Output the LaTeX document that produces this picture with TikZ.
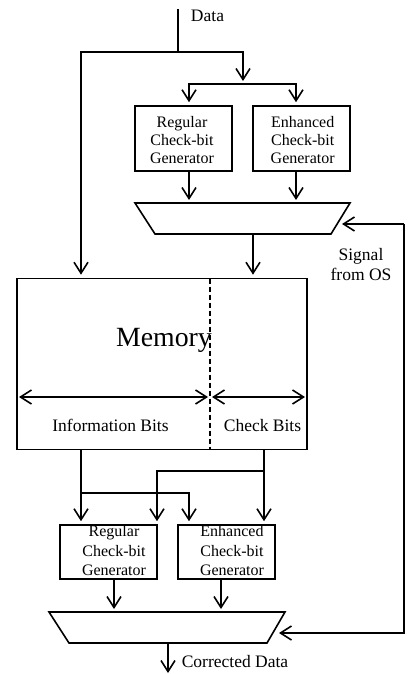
\documentclass[tikz,border=0pt]{standalone}
\usepackage{fontspec}
\setmainfont{Liberation Serif}
\usetikzlibrary{arrows.meta}
\begin{document}
\begin{tikzpicture}[x=1bp,y=-1bp,
  line width=1.6bp,
  barb/.tip={Straight Barb[length=11bp,width=14bp]},
  arr/.style={-barb, shorten >=3bp},
  dbl/.style={barb-barb},
  genbox/.style={draw, inner sep=0, minimum width=97bp},
  gentext/.style={align=center, inner sep=0, anchor=north},
  lbl/.style={inner sep=0, font=\fontsize{17.5bp}{20.7bp}\selectfont},
]
\useasboundingbox (0,0) rectangle (419,674);

% ---- input side: check-bit generators and selector ----
\node[genbox, minimum height=65bp] (rg1) at (183.5,138.5) {};
\node[genbox, minimum height=65bp] (eg1) at (301.5,138.5) {};
\node[gentext, font=\fontsize{16bp}{18.3bp}\selectfont] (rg1t) at (182,115.1) {Regular\\Check-bit\\Generator};
\node[gentext, font=\fontsize{16bp}{18.3bp}\selectfont] (eg1t) at (302.7,115.1) {Enhanced\\Check-bit\\Generator};

\coordinate (mxa-tl) at (135,203);
\coordinate (mxa-tr) at (350,203);
\coordinate (mxa-br) at (331,234);
\coordinate (mxa-bl) at (155,234);
\draw (mxa-tl) -- (mxa-tr) -- (mxa-br) -- (mxa-bl) -- cycle;
\coordinate (mxa-out) at (253,234);
\coordinate (mxa-in) at (339,224);

% ---- memory array ----
\node[draw, inner sep=0, minimum width=290bp, minimum height=171bp] (mem) at (162,364) {};
\coordinate (sep-t) at (210,278.5);
\coordinate (sep-b) at (210,449.5);
\draw[line width=1.2bp, dash pattern=on 5bp off 3bp] (sep-t) -- (sep-b);
\node[inner sep=0, anchor=base, font=\fontsize{27.8bp}{30bp}\selectfont] (memt) at (164,346) {Memory};
\coordinate (ib-l) at (19,397);
\coordinate (ib-r) at (208,397);
\coordinate (cb-l) at (212,397);
\coordinate (cb-r) at (305,397);
\draw[dbl] (ib-l) -- (ib-r);
\draw[dbl] (cb-l) -- (cb-r);
\node[lbl, anchor=base] (ibt) at (110.5,431) {Information Bits};
\node[lbl, anchor=base] (cbt) at (262.5,431) {Check Bits};

% ---- output side: check-bit generators and selector ----
\node[genbox, minimum height=54bp] (rg2) at (108.5,552) {};
\node[genbox, minimum height=54bp] (eg2) at (226.5,552) {};
\node[gentext, font=\fontsize{16bp}{19.2bp}\selectfont] (rg2t) at (114,525) {Regular\\Check-bit\\Generator};
\node[gentext, font=\fontsize{16bp}{19.2bp}\selectfont] (eg2t) at (232,525) {Enhanced\\Check-bit\\Generator};

\coordinate (mxb-tl) at (49,612);
\coordinate (mxb-tr) at (285,612);
\coordinate (mxb-br) at (267,643);
\coordinate (mxb-bl) at (69,643);
\draw (mxb-tl) -- (mxb-tr) -- (mxb-br) -- (mxb-bl) -- cycle;
\coordinate (mxb-out) at (168,643);
\coordinate (mxb-in) at (276,633);

% ---- data input and distribution ----
\coordinate (din) at (178,9);
\coordinate (dsplit) at (178,52);
\coordinate (dleft) at (81,52);
\coordinate (dright) at (243,52);
\coordinate (gfork) at (243,84);
\node[lbl, anchor=base] (datat) at (207.5,22) {Data};
\draw (din) -- (dsplit);
\draw[arr] (dsplit) -- (dleft) -- (dleft |- mem.north);
\draw[arr] (dsplit) -- (dright) -- (gfork);
\draw[arr] (gfork) -| ([xshift=5.5bp]rg1.north);
\draw[arr] (gfork) -| ([xshift=-5.5bp]eg1.north);
\draw[arr] ([xshift=5.5bp]rg1.south) -- ([xshift=5.5bp]rg1.south |- mxa-tl);
\draw[arr] ([xshift=-5.5bp]eg1.south) -- ([xshift=-5.5bp]eg1.south |- mxa-tl);
\draw[arr] (mxa-out) -- (mxa-out |- mem.north);

% ---- mode signal ----
\coordinate (os-t) at (404,224);
\coordinate (os-b) at (404,633);
\draw[arr] (os-t) -- (mxa-in);
\draw[arr] (os-t) -- (os-b) -- (mxb-in);
\node[lbl, align=center, anchor=north] (ost) at (361,247.3) {Signal\\from OS};

% ---- memory read-out ----
\coordinate (mo-l) at (81,449);
\coordinate (mo-r) at (264,449);
\coordinate (fr) at (264,471);
\coordinate (frl) at (157,471);
\coordinate (fl) at (81,493);
\coordinate (flr) at (189,493);
\draw[arr] (mo-l) -- (mo-l |- rg2.north);
\draw[arr] (mo-r) -- (mo-r |- eg2.north);
\draw[arr] (fr) -- (frl) -- (frl |- rg2.north);
\draw[arr] (fl) -- (flr) -- (flr |- eg2.north);
\draw[arr] ([xshift=5.5bp]rg2.south) -- ([xshift=5.5bp]rg2.south |- mxb-tl);
\draw[arr] ([xshift=-5.5bp]eg2.south) -- ([xshift=-5.5bp]eg2.south |- mxb-tl);

% ---- corrected output ----
\coordinate (dout) at (168,673);
\draw[-barb] (mxb-out) -- (dout);
\node[lbl, anchor=base west] (outt) at (181,667.7) {Corrected Data};
\end{tikzpicture}
\end{document}
